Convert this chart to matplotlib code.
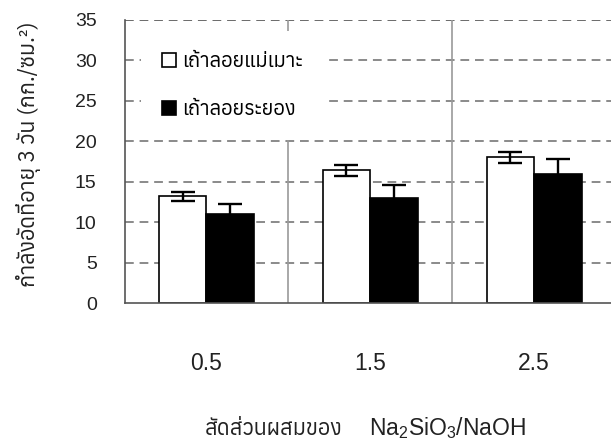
import matplotlib
matplotlib.use("Agg")
import matplotlib.pyplot as plt
from matplotlib import font_manager, ft2font
from matplotlib.patches import Patch
import numpy as np

# ---- data ----
ratios = ["0.5", "1.5", "2.5"]
series_names = ["เถ้าลอยแม่เมาะ", "เถ้าลอยระยอง"]
mae_moh = [13.2, 16.4, 18.0]
mae_moh_err = [0.55, 0.65, 0.7]
rayong = [11.0, 13.0, 16.0]
rayong_err = [1.25, 1.55, 1.85]
y_ticks = [0, 5, 10, 15, 20, 25, 30, 35]


def families_with(ch):
    found = []
    for f in font_manager.fontManager.ttflist:
        try:
            if ord(ch) in ft2font.FT2Font(f.fname).get_charmap():
                found.append(f.name)
        except Exception:
            pass
    return sorted(set(found))


thai_fams = families_with("ก")
latin = "Liberation Sans"
fams = thai_fams[:1] + [latin, "DejaVu Sans"]
plt.rcParams["font.family"] = fams
plt.rcParams["mathtext.fontset"] = "custom"
plt.rcParams["mathtext.rm"] = latin
plt.rcParams["mathtext.it"] = latin

W, H = 611, 444
fig = plt.figure(figsize=(W / 100, H / 100), dpi=100)
ax = fig.add_axes([124.5 / W, 1 - 303 / H, (616 - 124.5) / W, (303 - 20) / H])

x = np.arange(len(ratios))
bw = 0.29
off = bw / 2

ax.set_xlim(-0.5, 2.5)
ax.set_ylim(0, 35)

# horizontal dashed gridlines and group separators
for v in y_ticks[1:]:
    ax.axhline(v, color="#8a8a8a" if v < 35 else "#6a6a6a", lw=1.4,
               ls=(0, (4.5, 3)), zorder=0)
for s in x[:-1] + 0.5:
    ax.axvline(s, color="#9a9a9a", lw=1.2, zorder=0)

err_kw = dict(ecolor="black", elinewidth=1.7, capsize=8.5, capthick=1.7)
ax.bar(x - off, mae_moh, bw, color="white", edgecolor="black", lw=1.2,
       yerr=mae_moh_err, error_kw=err_kw, zorder=2)
ax.bar(x + off, rayong, bw, color="black", edgecolor="black", lw=1.2,
       yerr=rayong_err, error_kw=err_kw, zorder=2)

for side in ["top", "right"]:
    ax.spines[side].set_visible(False)
for side in ["left", "bottom"]:
    ax.spines[side].set_color("#555555")
    ax.spines[side].set_linewidth(1.2)

ax.set_yticks(y_ticks)
ax.set_yticklabels([str(v) for v in y_ticks], fontfamily=latin)
ax.set_xticks(x)
ax.set_xticklabels(ratios, fontfamily=latin)
ax.tick_params(axis="y", length=0, pad=20, labelsize=14, labelcolor="#222222")
ax.tick_params(axis="x", length=0, pad=35, labelsize=16.5, labelcolor="#222222")

fig.text(29 / W, 1 - 154 / H, "กำลังอัดที่อายุ 3 วัน (กก./ซม.²)",
         rotation=90, ha="center", va="center", fontsize=15.5, color="#222222")

# x axis title: Thai words followed by the chemical formula
base_y = 1 - 435 / H
t1 = fig.text(205 / W, base_y, "สัดส่วนผสมของ", ha="left", va="baseline",
              fontsize=15.5, color="#222222")
fig.canvas.draw()
t1_right = t1.get_window_extent().x1
fig.text((t1_right + 26) / W, base_y, r"Na$_2$SiO$_3$/NaOH", ha="left",
         va="baseline", fontsize=16.5, color="#222222", fontfamily=latin)

handles = [Patch(facecolor="white", edgecolor="black", lw=1.2),
           Patch(facecolor="black", edgecolor="black", lw=1.2)]
leg = ax.legend(handles, series_names, loc="upper left",
                bbox_to_anchor=(141 / W, 1 - 31 / H), bbox_transform=fig.transFigure,
                fontsize=14.5, frameon=True, framealpha=1, facecolor="white",
                edgecolor="none", fancybox=False, borderpad=1.05, labelspacing=1.45,
                handlelength=0.7, handleheight=0.7, handletextpad=0.3,
                borderaxespad=0)
leg.set_zorder(1)

fig.savefig("out.png", dpi=100)
